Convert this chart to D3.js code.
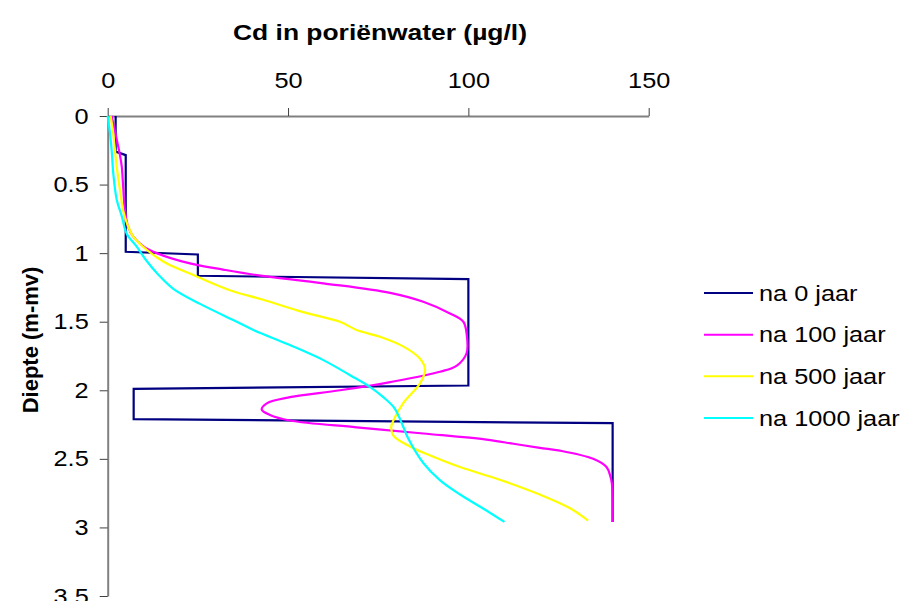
<!DOCTYPE html>
<html>
<head>
<meta charset="utf-8">
<script src="https://cdn.jsdelivr.net/npm/d3@7"></script>
<style>
  body { margin: 0; background: #fff; }
  text { font-family: "Liberation Sans", Arial, sans-serif; fill: #000; }
</style>
</head>
<body>
<div id="chart"></div>
<script>
// Cd concentration (µg/l) against depth (m-mv), per time after start
const series = ["na 0 jaar", "na 100 jaar", "na 500 jaar", "na 1000 jaar"];
const colors = ["#000080", "#FF00FF", "#FFFF00", "#00FFFF"];

const depth0 = [0, 0.26, 0.285, 0.99, 1.01, 1.165, 1.19, 1.965, 1.99, 2.21, 2.24, 2.96];
const cd0    = [2.2, 2.2, 5, 5, 25, 25, 100, 100, 7.2, 7.2, 140, 140];

const depth100 = [0, 0.22, 0.285, 0.37, 0.52, 0.69, 0.81, 0.88, 0.95, 1.0, 1.075, 1.12, 1.16, 1.22, 1.29,
  1.355, 1.44, 1.5, 1.585, 1.73, 1.82, 1.865, 1.94, 2.0, 2.05, 2.095, 2.14, 2.18, 2.22, 2.27, 2.315,
  2.36, 2.39, 2.42, 2.44, 2.5, 2.56, 2.63, 2.68, 2.96];
const cd100 = [1.1, 2.9, 3.4, 3.9, 4.3, 4.8, 5.7, 7.1, 9.9, 13.6, 22.8, 32, 41.3, 59.8, 78.3,
  87.5, 94.9, 98.6, 99.5, 99.5, 96.8, 92.1, 78.3, 64.4, 50.5, 44.1, 42.7, 45, 50.5, 69, 87.5,
  105, 112.5, 119.8, 125.4, 134.6, 138.3, 139.4, 139.8, 140];

const depth500 = [0, 0.13, 0.37, 0.54, 0.69, 0.78, 0.88, 0.955, 1.03, 1.075, 1.17, 1.27, 1.34, 1.43, 1.5,
  1.56, 1.61, 1.68, 1.77, 1.85, 1.95, 2.095, 2.22, 2.27, 2.33, 2.41, 2.485, 2.56, 2.65, 2.76, 2.86, 2.95];
const cd500 = [0.8, 1.55, 2.5, 3.4, 4.3, 5.3, 7.1, 9.9, 13.6, 16.4, 24.7, 33.9, 43.1, 54.2, 64.4,
  69, 75.5, 81.9, 86.6, 88, 86.6, 81.9, 79.2, 78.6, 79.2, 83.8, 90.3, 97.7, 108.5, 119.8, 128.2, 133.2];

const depth1000 = [0, 0.13, 0.25, 0.42, 0.61, 0.73, 0.86, 0.95, 1.05, 1.15, 1.26, 1.37, 1.5, 1.56, 1.67,
  1.78, 1.89, 1.975, 2.05, 2.13, 2.27, 2.35, 2.53, 2.655, 2.76, 2.86, 2.96];
const cd1000 = [0, 0.65, 1.1, 1.55, 2.5, 3.9, 5.3, 8.0, 10.6, 13.8, 18.2, 25.6, 35.8, 40.4, 50.5,
  59.8, 67.2, 72.7, 76.4, 79.5, 82, 83.3, 87.5, 92.1, 97.7, 104, 110];

const xTicks = [0, 50, 100, 150];
const yTicks = [0, 0.5, 1, 1.5, 2, 2.5, 3, 3.5];

const width = 904, height = 601;
const stretchX = 1.15; // reference text is drawn wide

function stretch(sel, k) {
  sel.each(function() {
    const w = this.getComputedTextLength();
    this.setAttribute("textLength", w * k);
    this.setAttribute("lengthAdjust", "spacingAndGlyphs");
  });
}

const x = d3.scaleLinear().domain([0, 150]).range([107.7, 648.7]);
const y = d3.scaleLinear().domain([0, 3.5]).range([116, 596]);

const svg = d3.select("#chart").append("svg")
    .attr("width", width)
    .attr("height", height)
    .attr("viewBox", [0, 0, width, height]);

// axes
svg.append("g")
    .attr("transform", `translate(0,${y(0)})`)
    .call(d3.axisTop(x).tickValues(xTicks).tickSize(8).tickPadding(20).tickSizeOuter(0))
    .call(g => g.select(".domain").attr("stroke", "#808080").attr("stroke-width", 2))
    .call(g => g.selectAll(".tick line").attr("stroke", "#404040").attr("stroke-width", 1))
    .call(g => g.selectAll(".tick text").attr("font-size", 22).attr("font-family", null)
        .call(stretch, stretchX));

svg.append("g")
    .attr("transform", `translate(${x(0)},0)`)
    .call(d3.axisLeft(y).tickValues(yTicks).tickSize(8).tickPadding(11).tickSizeOuter(0)
        .tickFormat(d3.format("")))
    .call(g => g.select(".domain").attr("stroke", "#808080").attr("stroke-width", 2))
    .call(g => g.selectAll(".tick line").attr("stroke", "#404040").attr("stroke-width", 1))
    .call(g => g.selectAll(".tick text").attr("font-size", 22).attr("font-family", null)
        .call(stretch, stretchX));

// titles
svg.append("text")
    .attr("x", 380)
    .attr("y", 40)
    .attr("text-anchor", "middle")
    .attr("font-size", 22)
    .attr("font-weight", "bold")
    .text("Cd in poriënwater (µg/l)")
    .call(stretch, 1.2);

svg.append("text")
    .attr("transform", "translate(38,340) rotate(-90)")
    .attr("text-anchor", "middle")
    .attr("font-size", 22)
    .attr("font-weight", "bold")
    .text("Diepte (m-mv)");

// lines
const profiles = [
  {depth: depth0, cd: cd0, curve: d3.curveLinear},
  {depth: depth100, cd: cd100, curve: d3.curveCatmullRom.alpha(0.5)},
  {depth: depth500, cd: cd500, curve: d3.curveCatmullRom.alpha(0.5)},
  {depth: depth1000, cd: cd1000, curve: d3.curveCatmullRom.alpha(0.5)}
];

profiles.forEach((p, i) => {
  const line = d3.line()
      .x(j => x(p.cd[j]))
      .y(j => y(p.depth[j]))
      .curve(p.curve);
  svg.append("path")
      .attr("d", line(d3.range(p.depth.length)))
      .attr("fill", "none")
      .attr("stroke", colors[i])
      .attr("stroke-width", 2.2)
      .attr("stroke-linejoin", "miter");
});

// legend
const legend = svg.append("g");
const ly = d3.scalePoint().domain(series).range([293, 418]);
series.forEach((s, i) => {
  legend.append("line")
      .attr("x1", 704).attr("x2", 753)
      .attr("y1", ly(s)).attr("y2", ly(s))
      .attr("stroke", colors[i])
      .attr("stroke-width", 2);
  legend.append("text")
      .attr("x", 759)
      .attr("y", ly(s))
      .attr("dy", "0.35em")
      .attr("font-size", 22)
      .text(s)
      .call(stretch, stretchX);
});
</script>
</body>
</html>
